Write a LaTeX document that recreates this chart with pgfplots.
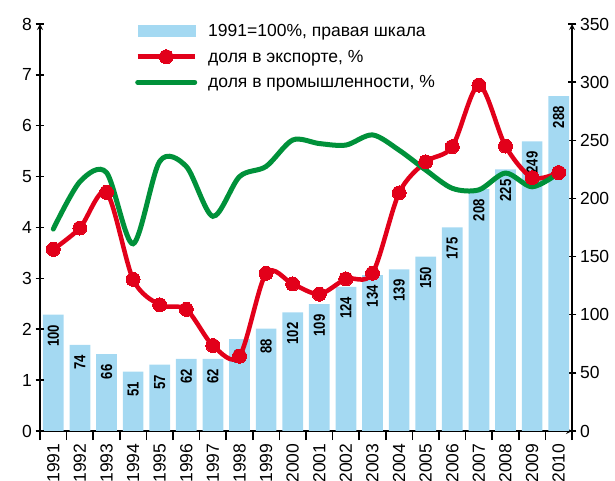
\documentclass[border=0pt]{standalone}
\usepackage{pgfplots}
\pgfplotsset{compat=1.18}
\usepackage{fontspec}
\setmainfont{Liberation Sans}
\newfontfamily\narrow[FakeStretch=0.82]{Liberation Sans}
\definecolor{barblue}{HTML}{A4D9F2}
\definecolor{lred}{HTML}{E2001A}
\definecolor{lgreen}{HTML}{00913A}

\pgfplotstableread{
year bars
1991 100
1992 74
1993 66
1994 51
1995 57
1996 62
1997 62
1998 79
1999 88
2000 102
2001 109
2002 124
2003 134
2004 139
2005 150
2006 175
2007 208
2008 225
2009 249
2010 288
}\bardata

\pgfplotstableread{
year export industry
1991 3.57 3.97
1992 3.99 4.90
1993 4.69 5.08
1994 2.98 3.68
1995 2.48 5.30
1996 2.39 5.20
1997 1.68 4.22
1998 1.47 5.00
1999 3.10 5.20
2000 2.89 5.72
2001 2.69 5.65
2002 2.99 5.62
2003 3.10 5.82
2004 4.68 5.52
2005 5.29 5.13
2006 5.59 4.77
2007 6.80 4.74
2008 5.60 5.07
2009 4.98 4.80
2010 5.08 5.07
}\linedata

\pgfplotsset{
  barlegend/.style={legend image code/.code={\fill[barblue] (0pt,-5.5pt) rectangle (57pt,5.5pt);}},
  redlegend/.style={legend image code/.code={\draw[##1, mark repeat=2, mark phase=2] plot coordinates {(0pt,0pt) (28.5pt,0pt) (57pt,0pt)};}},
  greenlegend/.style={legend image code/.code={\draw[##1] (0pt,0pt) -- (57pt,0pt);}},
}

\begin{document}
\begin{tikzpicture}
\pgfplotsset{
  every axis/.append style={
    scale only axis, width=532pt, height=407pt,
    xmin=1990.5, xmax=2010.5,
    font=\fontsize{17.5}{20}\selectfont,
    /pgf/number format/assume math mode=true,
    tick style={black, line width=1.5pt},
    axis line style={black, line width=1.6pt, -},
    tick align=outside,
    major tick length=9pt,
  }
}
\begin{axis}[
  ymin=0, ymax=350,
  axis y line=right, axis x line=bottom,
  ytick={0,50,...,350},
  xtick={1990.5,1991.5,...,2010.5},
  xticklabels={},
  extra x ticks={1991,1992,...,2010},
  extra x tick labels={1991,1992,1993,1994,1995,1996,1997,1998,1999,2000,2001,2002,2003,2004,2005,2006,2007,2008,2009,2010},
  extra x tick style={tick style={draw=none}, tick label style={yshift=0pt, rotate=90, anchor=east}},
  ybar, bar width=20.7pt,
  nodes near coords,
  nodes near coords style={font=\narrow\bfseries\fontsize{16}{17}\selectfont, rotate=90, anchor=east, inner xsep=10pt, black},
]
\addplot[fill=barblue, draw=none] table[x=year, y=bars] {\bardata};
\end{axis}
\begin{axis}[
  ymin=0, ymax=8,
  axis y line=left, axis x line=none,
  ytick={0,1,...,8},
  legend cell align=left,
  legend style={at={(rel axis cs:0.1786,1.0)}, anchor=north west, yshift=2pt, draw=none, fill=none, inner sep=0pt, row sep=8pt,
    font=\fontsize{17.5}{20}\selectfont,
    /tikz/every odd column/.append style={column sep=9pt}},
]
\addlegendimage{barlegend}
\addlegendentry{1991=100\%, правая шкала}
\addplot[lred, line width=4.5pt, smooth, mark=*, mark size=7pt, mark options={fill=lred, draw=lred, line width=0pt}, redlegend]
  table[x=year, y=export] {\linedata};
\addlegendentry{доля в экспорте, \%}
\addplot[lgreen, line width=5pt, smooth, line cap=round, greenlegend]
  table[x=year, y=industry] {\linedata};
\addlegendentry{доля в промышленности, \%}
\end{axis}
\pgfresetboundingbox
\path[use as bounding box] (-40pt,-50pt) rectangle (575pt,431pt);
\end{tikzpicture}
\end{document}
